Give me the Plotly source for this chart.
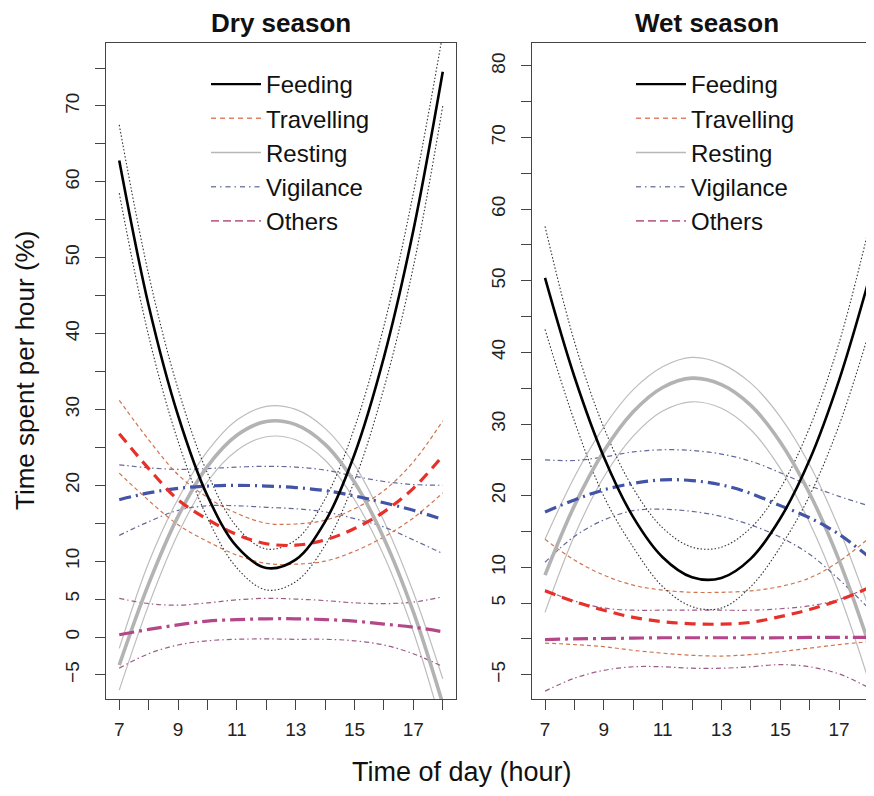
import plotly.graph_objects as go

hours = [7, 8, 9, 10, 11, 12, 13, 14, 15, 16, 17, 18]
behaviours = ["Feeding", "Travelling", "Resting", "Vigilance", "Others"]

# ---- Dry season (fit, lower CI, upper CI) ----
dry_feeding = [62.8, 43.7, 29.2, 18.6, 11.9, 9.1, 10.2, 15.2, 24.1, 36.9, 53.6, 74.5]
dry_feeding_lo = [58.5, 39.7, 25.8, 15.7, 9.1, 6.2, 7.3, 12.1, 20.6, 32.8, 48.8, 70.0]
dry_feeding_hi = [67.5, 47.8, 32.7, 21.6, 14.5, 11.6, 12.8, 18.2, 27.6, 41.0, 58.5, 79.5]

dry_travelling = [26.8, 22.2, 18.1, 15.5, 13.5, 12.3, 12.1, 12.8, 14.3, 16.5, 19.6, 23.9]
dry_travelling_lo = [21.6, 18.0, 14.8, 12.6, 10.8, 9.7, 9.6, 10.0, 11.3, 13.2, 15.7, 19.0]
dry_travelling_hi = [31.2, 26.0, 21.4, 18.4, 16.3, 15.0, 14.9, 15.4, 16.9, 19.3, 23.1, 28.5]

dry_resting = [-3.7, 7.0, 15.9, 22.5, 26.6, 28.4, 28.0, 25.4, 20.4, 13.0, 3.3, -8.8]
dry_resting_lo = [-7.0, 4.2, 13.6, 20.5, 24.6, 26.4, 26.0, 23.3, 18.1, 10.7, 0.7, -12.1]
dry_resting_hi = [-1.5, 9.8, 18.2, 24.5, 28.6, 30.4, 30.0, 27.5, 22.7, 15.3, 5.9, -5.5]

dry_vigilance = [18.1, 19.0, 19.6, 19.9, 20.0, 19.9, 19.7, 19.3, 18.6, 17.7, 16.7, 15.5]
dry_vigilance_lo = [13.4, 15.2, 16.7, 17.3, 17.3, 17.1, 16.9, 16.5, 15.6, 14.5, 12.8, 11.0]
dry_vigilance_hi = [22.7, 22.3, 22.1, 22.2, 22.4, 22.5, 22.4, 22.0, 21.2, 20.5, 20.1, 20.0]

dry_others = [0.3, 1.0, 1.6, 2.1, 2.3, 2.4, 2.4, 2.3, 2.1, 1.7, 1.3, 0.7]
dry_others_lo = [-4.1, -2.2, -1.05, -0.5, -0.3, -0.25, -0.3, -0.3, -0.5, -1.05, -2.2, -3.9]
dry_others_hi = [5.1, 4.4, 4.2, 4.5, 4.9, 5.1, 5.0, 4.8, 4.5, 4.4, 4.6, 5.3]

# ---- Wet season (fit, lower CI, upper CI) ----
wet_feeding = [50.4, 36.6, 25.4, 17.0, 11.4, 8.6, 8.5, 11.2, 16.8, 25.0, 36.1, 49.9]
wet_feeding_lo = [43.2, 30.4, 19.9, 12.8, 7.3, 4.5, 4.3, 7.3, 12.8, 20.0, 29.8, 42.5]
wet_feeding_hi = [57.6, 41.5, 29.5, 21.0, 15.5, 12.8, 12.8, 15.5, 21.0, 29.5, 41.3, 57.1]

wet_travelling = [6.7, 5.2, 4.0, 3.0, 2.4, 2.1, 2.05, 2.3, 3.1, 4.1, 5.4, 7.1]
wet_travelling_lo = [-0.6, -0.8, -1.1, -1.6, -2.0, -2.3, -2.4, -2.2, -1.8, -1.3, -0.8, -0.4]
wet_travelling_hi = [13.9, 11.0, 8.9, 7.5, 6.8, 6.5, 6.5, 6.7, 7.3, 8.5, 10.8, 14.0]

wet_resting = [8.9, 18.6, 26.2, 31.7, 35.1, 36.4, 35.5, 32.6, 27.5, 20.3, 11.0, -0.5]
wet_resting_lo = [3.7, 14.4, 22.6, 28.3, 31.8, 33.1, 32.2, 29.2, 23.8, 16.2, 6.4, -5.7]
wet_resting_hi = [13.9, 22.6, 29.6, 34.8, 38.0, 39.3, 38.4, 35.7, 31.0, 24.3, 15.4, 4.5]

wet_vigilance = [17.7, 19.4, 20.8, 21.7, 22.2, 22.1, 21.5, 20.3, 18.6, 16.9, 14.6, 11.5]
wet_vigilance_lo = [10.7, 14.3, 16.6, 17.9, 18.1, 17.8, 17.1, 15.9, 14.2, 11.8, 8.3, 4.3]
wet_vigilance_hi = [25.0, 24.9, 25.4, 26.1, 26.4, 26.3, 25.8, 24.8, 23.2, 21.4, 19.9, 18.6]

wet_others = [-0.1, 0.0, 0.05, 0.1, 0.15, 0.15, 0.15, 0.15, 0.15, 0.2, 0.2, 0.2]
wet_others_lo = [-7.3, -5.5, -4.4, -3.9, -3.9, -4.1, -4.1, -3.9, -3.6, -3.9, -4.9, -6.8]
wet_others_hi = [6.8, 5.3, 4.3, 4.0, 4.0, 4.0, 4.0, 4.0, 4.2, 4.6, 5.5, 7.2]

x_tickvals = [7, 8, 9, 10, 11, 12, 13, 14, 15, 16, 17, 18]
x_ticktext = ["7", "", "9", "", "11", "", "13", "", "15", "", "17", ""]
dry_y_tickvals = [-5, 0, 5, 10, 15, 20, 25, 30, 35, 40, 45, 50, 55, 60, 65, 70, 75]
dry_y_ticktext = ["\u22125", "0", "5", "10", "", "20", "", "30", "", "40", "", "50", "", "60", "", "70", ""]
wet_y_tickvals = [-5, 0, 5, 10, 15, 20, 25, 30, 35, 40, 45, 50, 55, 60, 65, 70, 75, 80]
wet_y_ticktext = ["\u22125", "", "5", "10", "", "20", "", "30", "", "40", "", "50", "", "60", "", "70", "", "80"]

FONT = "Liberation Sans, Arial, Helvetica, sans-serif"

# The page body adds an 8px offset; the figure is sized to fill the rest of the window.
OFF = 8
W, H = 874 - OFF, 796 - OFF


def fx(px):
    return (px - OFF) / W


def fy(py):
    return 1 - (py - OFF) / H


# styles: (thick colour, thick width, thick dash, ci colour, ci width, ci dash, legend colour, legend width, legend dash)
styles = {
    "Feeding": ("#000000", 2.6, "solid", "#333333", 1.1, "1.5px,2px", "#000000", 2.2, "solid"),
    "Travelling": ("#E8302A", 3.2, "11px,7px", "#D0754F", 1.2, "4px,3px", "#E0826A", 1.6, "5px,4px"),
    "Resting": ("#B3B3B3", 3.6, "solid", "#BDBDBD", 1.2, "solid", "#B8B8B8", 1.6, "solid"),
    "Vigilance": ("#4353A6", 3.2, "12px,5px,2px,5px", "#636A98", 1.2, "5px,3px,1.5px,3px", "#7C84A8", 1.6, "5px,4px,1.5px,4px"),
    "Others": ("#B4478A", 3.2, "15px,5px,3px,5px", "#9C5C86", 1.2, "5px,3px,1.5px,3px", "#C06A92", 1.8, "8px,4px"),
}

dry = {
    "Feeding": (dry_feeding, dry_feeding_lo, dry_feeding_hi),
    "Travelling": (dry_travelling, dry_travelling_lo, dry_travelling_hi),
    "Resting": (dry_resting, dry_resting_lo, dry_resting_hi),
    "Vigilance": (dry_vigilance, dry_vigilance_lo, dry_vigilance_hi),
    "Others": (dry_others, dry_others_lo, dry_others_hi),
}
wet = {
    "Feeding": (wet_feeding, wet_feeding_lo, wet_feeding_hi),
    "Travelling": (wet_travelling, wet_travelling_lo, wet_travelling_hi),
    "Resting": (wet_resting, wet_resting_lo, wet_resting_hi),
    "Vigilance": (wet_vigilance, wet_vigilance_lo, wet_vigilance_hi),
    "Others": (wet_others, wet_others_lo, wet_others_hi),
}

fig = go.Figure()
draw_order = ["Resting", "Others", "Vigilance", "Travelling", "Feeding"]

for data, xa, ya in [(dry, "x", "y"), (wet, "x2", "y2")]:
    # confidence bands first
    for name in draw_order:
        fit, lo, hi = data[name]
        st = styles[name]
        for band in (lo, hi):
            fig.add_trace(go.Scatter(
                x=hours, y=band, mode="lines", xaxis=xa, yaxis=ya,
                line=dict(color=st[3], width=st[4], dash=st[5], shape="spline", smoothing=1.0),
                showlegend=False, hoverinfo="skip"))
    for name in draw_order:
        fit, lo, hi = data[name]
        st = styles[name]
        fig.add_trace(go.Scatter(
            x=hours, y=fit, mode="lines", xaxis=xa, yaxis=ya, name=name,
            line=dict(color=st[0], width=st[1], dash=st[2], shape="spline", smoothing=1.0),
            showlegend=False))

# legend entries (thin lines, as in the original key)
for leg, xa, ya in [("legend", "x", "y"), ("legend2", "x2", "y2")]:
    for name in behaviours:
        st = styles[name]
        fig.add_trace(go.Scatter(
            x=[None], y=[None], mode="lines", xaxis=xa, yaxis=ya, name=name,
            line=dict(color=st[6], width=st[7], dash=st[8]),
            showlegend=True, legend=leg))

axis_common = dict(
    showline=True, linecolor="#444444", linewidth=1.4,
    ticks="outside", ticklen=10, tickwidth=1.4, tickcolor="#444444",
    showgrid=False, zeroline=False, automargin=False,
    tickfont=dict(family=FONT, size=19, color="#222222"),
)

leg_common = dict(
    font=dict(family=FONT, size=24, color="#111111"),
    bgcolor="rgba(0,0,0,0)", borderwidth=0, traceorder="normal",
    xanchor="left", yanchor="top", itemwidth=50,
)

fig.update_layout(
    width=W, height=H,
    margin=dict(l=0, r=0, t=0, b=0, pad=0, autoexpand=False),
    paper_bgcolor="white", plot_bgcolor="white",
    font=dict(family=FONT, color="#111111"),
    xaxis=dict(domain=[fx(106), fx(456)], range=[6.55, 18.45],
               tickvals=x_tickvals, ticktext=x_ticktext, mirror=True, anchor="y",
               ticklabelstandoff=3, **axis_common),
    yaxis=dict(domain=[fy(699), fy(43)], range=[-8.17, 78.3],
               tickvals=dry_y_tickvals, ticktext=dry_y_ticktext, tickangle=-90,
               mirror=True, anchor="x", ticklabelstandoff=8, **axis_common),
    xaxis2=dict(domain=[fx(532), 1.0], range=[6.557, 18.19],
                tickvals=x_tickvals, ticktext=x_ticktext, mirror=True, anchor="y2",
                ticklabelstandoff=3, **axis_common),
    yaxis2=dict(domain=[fy(699), fy(43)], range=[-8.4, 83.2],
                tickvals=wet_y_tickvals, ticktext=wet_y_ticktext, tickangle=-90,
                mirror=False, anchor="x2", ticklabelstandoff=8, **axis_common),
    legend=dict(x=fx(206), y=fy(62), **leg_common),
    legend2=dict(x=fx(631), y=fy(62), **leg_common),
    annotations=[
        dict(text="<b>Dry season</b>", x=fx(281), y=fy(23), xref="paper", yref="paper",
             showarrow=False, font=dict(family=FONT, size=26, color="#111111"), xanchor="center", yanchor="middle"),
        dict(text="<b>Wet season</b>", x=fx(707), y=fy(23), xref="paper", yref="paper",
             showarrow=False, font=dict(family=FONT, size=26, color="#111111"), xanchor="center", yanchor="middle"),
        dict(text="Time spent per hour (%)", x=fx(25), y=fy(371), xref="paper", yref="paper",
             showarrow=False, textangle=-90, font=dict(family=FONT, size=26, color="#111111"),
             xanchor="center", yanchor="middle"),
        dict(text="Time of day (hour)", x=fx(462), y=fy(772), xref="paper", yref="paper",
             showarrow=False, font=dict(family=FONT, size=27, color="#111111"),
             xanchor="center", yanchor="middle"),
    ],
)

fig.write_html("out.html")
